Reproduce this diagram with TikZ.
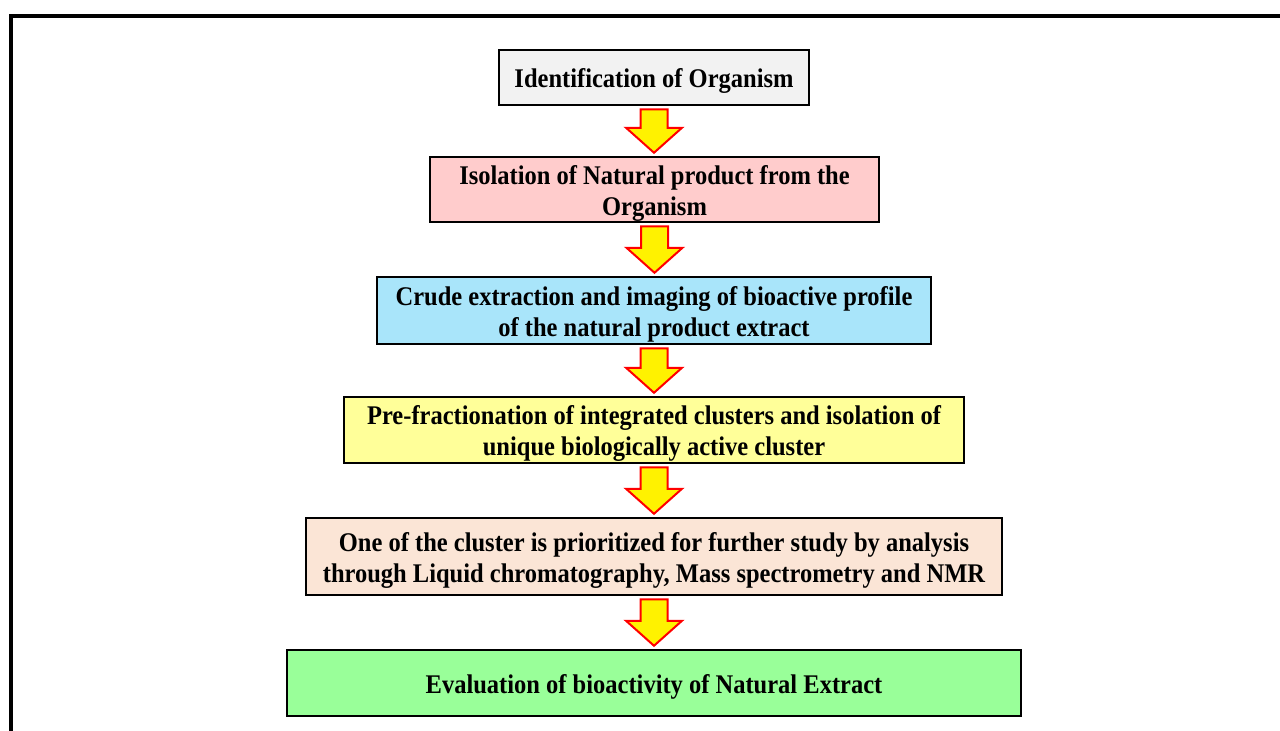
\documentclass[tikz,border=0pt]{standalone}
\usepackage{fontspec}
\setmainfont{Liberation Serif}
\usetikzlibrary{calc}
\definecolor{cgray}{HTML}{F2F2F2}
\definecolor{cpink}{HTML}{FFCCCC}
\definecolor{cblue}{HTML}{A9E5FA}
\definecolor{cyellow}{HTML}{FFFF99}
\definecolor{cpeach}{HTML}{FBE5D6}
\definecolor{cgreen}{HTML}{99FF99}
\tikzset{
  stepbox/.style={draw=black, line width=2.5pt, inner sep=0pt},
  steptext/.style={align=center, inner sep=0pt, yshift=-3.5pt, yscale=1.1, transform shape,
    font=\fontsize{24.5}{28.2}\selectfont\bfseries},
  blockarrow/.style={draw=red, fill=yellow, line width=2pt, line join=miter},
}
\newcommand{\blockarr}[2]{%
  \path let \p1=(#1.south), \p2=(#2.north) in
    [blockarrow] (\x1-13.5pt,\y1-3pt) -- (\x1+13.5pt,\y1-3pt) -- (\x1+13.5pt,\y2+28pt)
    -- (\x1+28pt,\y2+28pt) -- (\x1,\y2+3pt) -- (\x1-28pt,\y2+28pt) -- (\x1-13.5pt,\y2+28pt) -- cycle;}
\begin{document}
\begin{tikzpicture}[x=1pt,y=-1pt]
\useasboundingbox (0,0) rectangle (1280,731);
\clip (0,0) rectangle (1280,731);
\draw[line width=4pt] (11,15.5) rectangle (1300,760);
\node[stepbox, fill=cgray, minimum width=310pt, minimum height=55pt,
  label={[steptext]center:Identification of Organism}] (b1) at (654,77.5) {};
\node[stepbox, fill=cpink, minimum width=449pt, minimum height=65pt,
  label={[steptext]center:{Isolation of Natural product from the\\Organism}}] (b2) at (654.5,189.5) {};
\node[stepbox, fill=cblue, minimum width=554pt, minimum height=67pt,
  label={[steptext]center:{Crude extraction and imaging of bioactive profile\\of the natural product extract}}] (b3) at (654,310.5) {};
\node[stepbox, fill=cyellow, minimum width=620pt, minimum height=66pt,
  label={[steptext]center:{Pre-fractionation of integrated clusters and isolation of\\unique biologically active cluster}}] (b4) at (654,430) {};
\node[stepbox, fill=cpeach, minimum width=696pt, minimum height=77pt,
  label={[steptext]center:{One of the cluster is prioritized for further study by analysis\\through Liquid chromatography, Mass spectrometry and NMR}}] (b5) at (654,556.5) {};
\node[stepbox, fill=cgreen, minimum width=734pt, minimum height=66pt,
  label={[steptext]center:Evaluation of bioactivity of Natural Extract}] (b6) at (654,683) {};
\blockarr{b1}{b2}
\blockarr{b2}{b3}
\blockarr{b3}{b4}
\blockarr{b4}{b5}
\blockarr{b5}{b6}
\end{tikzpicture}
\end{document}
